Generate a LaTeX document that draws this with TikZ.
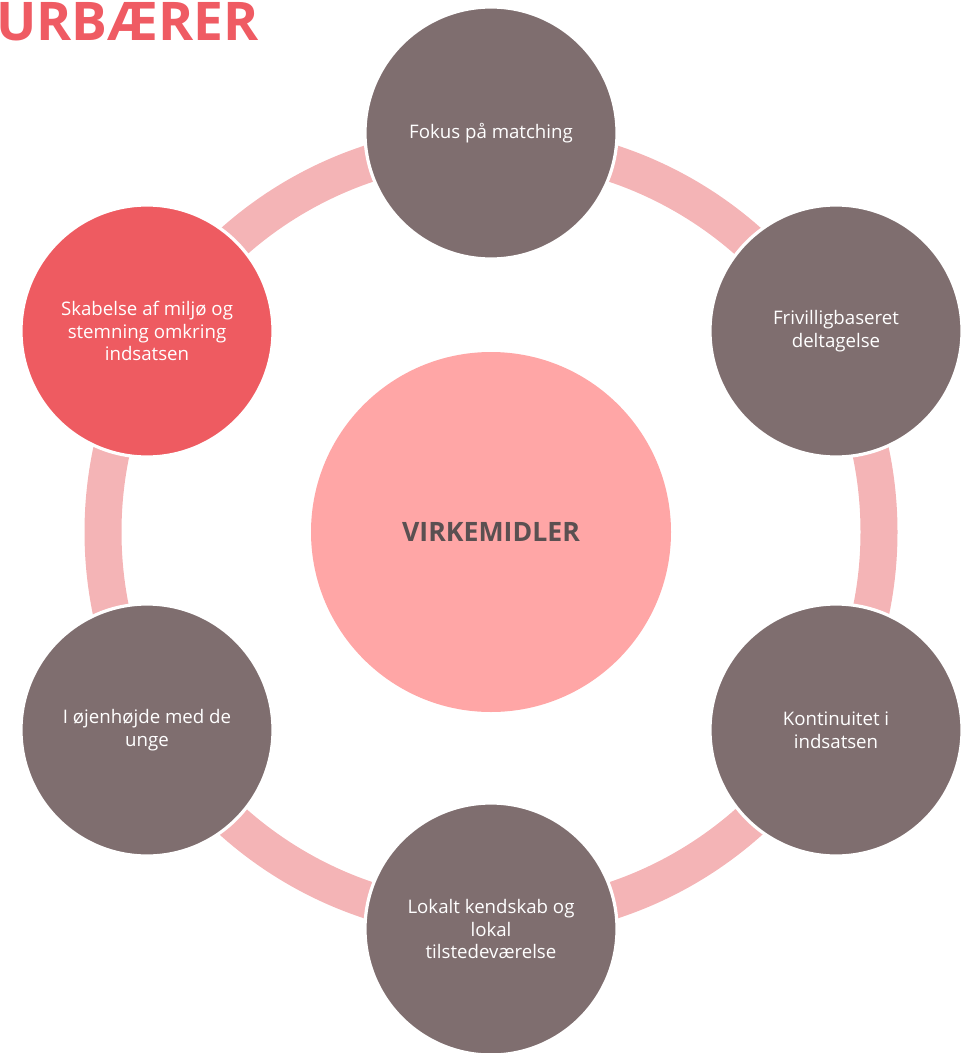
\documentclass[tikz,border=0pt]{standalone}
\usepackage{fontspec}
\setmainfont{Open Sans}
\definecolor{ringc}{HTML}{F4B4B6}
\definecolor{greyc}{HTML}{7F6E6F}
\definecolor{redc}{HTML}{EE5B61}
\definecolor{centerc}{HTML}{FFA6A6}
\definecolor{centertext}{HTML}{5A5051}
\definecolor{titlec}{HTML}{EF5B63}
\begin{document}
\begin{tikzpicture}[x=0.75pt,y=-0.75pt,
  outer/.style={circle,minimum size=189pt,inner sep=0pt,draw=white,line width=2.4pt,
    fill=greyc,text=white,align=center,font=\fontsize{14pt}{17.2pt}\selectfont},
  hub/.style={circle,minimum size=270pt,inner sep=0pt,fill=centerc,text=centertext,
    font=\bfseries\fontsize{20pt}{24pt}\selectfont},
  ringband/.style={draw=ringc,line width=27.75pt}]
\useasboundingbox (0,0) rectangle (966,1053);
\coordinate (c) at (491,532);
\draw[ringband] (c) circle[radius=291pt];
\node[hub] (hub) at (c) {VIRKEMIDLER};
\node[outer] (n1) at (491,133) {Fokus på matching};
\node[outer] (n2) at (836,331) {Frivilligbaseret\\deltagelse};
\node[outer] (n3) at (836,730) {Kontinuitet i\\indsatsen};
\node[outer] (n4) at (491,929) {Lokalt kendskab og\\lokal\\tilstedeværelse};
\node[outer] (n5) at (147,730) {I øjenhøjde med de\\unge};
\node[outer,fill=redc] (n6) at (147,331) {Skabelse af miljø og\\stemning omkring\\indsatsen};
\node[anchor=base west,inner sep=0pt,text=titlec,font=\bfseries\fontsize{40pt}{44pt}\selectfont] (title) at (-4,40) {URBÆRER};
\end{tikzpicture}
\end{document}
